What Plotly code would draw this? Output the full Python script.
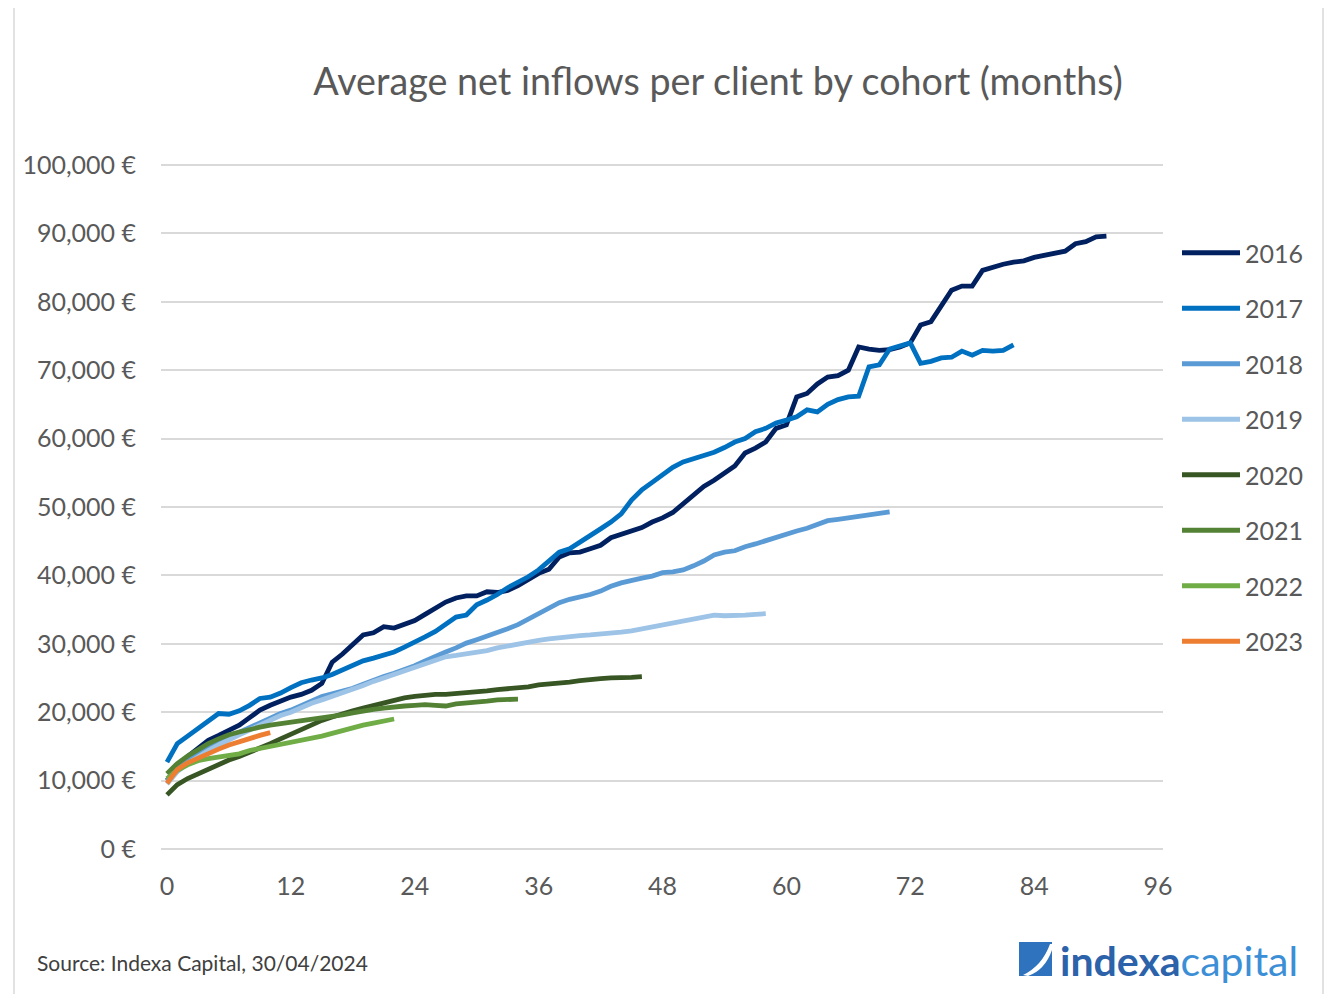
import plotly.graph_objects as go

# ---------------- data (thousand €) ----------------
cohorts = ["2016", "2017", "2018", "2019", "2020", "2021", "2022", "2023"]

v2016 = [10.0, 12.0, 13.5, 14.8, 15.9, 16.6, 17.4, 18.1, 19.2, 20.3, 21.0, 21.6, 22.2, 22.6, 23.2, 24.2,
         27.3, 28.5, 30.0, 31.3, 31.6, 32.5, 32.3, 32.8, 33.4, 34.3, 35.3, 36.1, 36.7, 37.0, 37.0, 37.6,
         37.5, 37.8, 38.5, 39.4, 40.3, 40.9, 42.7, 43.3, 43.4, 43.9, 44.4, 45.5, 46.0, 46.5, 47.0, 47.8,
         48.4, 49.2, 50.5, 51.8, 53.0, 53.9, 55.0, 56.0, 57.9, 58.6, 59.5, 61.5, 62.0, 66.1, 66.6, 68.0,
         69.0, 69.2, 70.0, 73.4, 73.1, 72.9, 73.0, 73.4, 74.0, 76.6, 77.1, 79.4, 81.7, 82.3, 82.3, 84.6,
         85.1, 85.5, 85.8, 86.0, 86.5, 86.8, 87.1, 87.4, 88.5, 88.8, 89.5, 89.6]
v2017 = [12.7, 15.4, 16.5, 17.6, 18.7, 19.8, 19.7, 20.2, 21.0, 22.0, 22.2, 22.8, 23.6, 24.3, 24.7, 25.0,
         25.5, 26.2, 26.9, 27.5, 27.9, 28.4, 28.8, 29.5, 30.2, 31.0, 31.8, 32.9, 33.9, 34.2, 35.7, 36.4,
         37.2, 38.2, 39.0, 39.8, 40.8, 42.0, 43.4, 43.9, 44.8, 45.8, 46.8, 47.8, 49.0, 51.0, 52.5, 53.6,
         54.8, 55.8, 56.6, 57.1, 57.5, 58.0, 58.7, 59.5, 60.0, 61.0, 61.5, 62.3, 62.7, 63.2, 64.2, 63.9,
         65.0, 65.7, 66.1, 66.2, 70.5, 70.8, 73.1, 73.5, 74.0, 71.0, 71.3, 71.8, 71.9, 72.8, 72.2, 72.9,
         72.8, 72.9, 73.7]
v2018 = [10.0, 11.8, 13.0, 14.0, 14.9, 15.7, 16.4, 17.1, 17.8, 18.5, 19.2, 19.8, 20.3, 21.0, 21.7, 22.3,
         22.7, 23.1, 23.5, 24.1, 24.7, 25.2, 25.7, 26.2, 26.8, 27.5, 28.2, 28.8, 29.4, 30.1, 30.6, 31.1,
         31.6, 32.2, 32.8, 33.6, 34.5, 35.3, 36.0, 36.5, 36.8, 37.2, 37.7, 38.4, 38.9, 39.3, 39.6, 39.9,
         40.4, 40.5, 40.8, 41.4, 42.1, 43.0, 43.4, 43.6, 44.2, 44.6, 45.1, 45.6, 46.1, 46.5, 46.9, 47.4,
         48.0, 48.2, 48.4, 48.6, 48.9, 49.1, 49.3]
v2019 = [9.5, 11.3, 12.5, 13.5, 14.4, 15.2, 16.0, 16.7, 17.4, 18.1, 18.9, 19.5, 20.0, 20.7, 21.3, 21.8,
         22.3, 22.8, 23.4, 23.9, 24.5, 25.0, 25.5, 26.0, 26.6, 27.1, 27.6, 28.1, 28.3, 28.5, 28.7, 29.0,
         29.4, 29.7, 30.0, 30.3, 30.5, 30.7, 30.9, 31.0, 31.2, 31.3, 31.4, 31.5, 31.7, 31.9, 32.2, 32.5,
         32.8, 33.0, 33.3, 33.7, 34.0, 34.2, 34.1, 34.1, 34.2, 34.3, 34.4]
v2020 = [7.9, 9.4, 10.3, 11.0, 11.7, 12.3, 13.0, 13.5, 14.1, 14.8, 15.4, 16.1, 16.8, 17.5, 18.2, 18.8,
         19.3, 19.8, 20.2, 20.6, 21.0, 21.4, 21.8, 22.1, 22.3, 22.5, 22.6, 22.6, 22.7, 22.8, 22.9, 23.1,
         23.3, 23.4, 23.5, 23.7, 24.0, 24.1, 24.2, 24.4, 24.6, 24.8, 24.9, 25.0, 25.0, 25.1, 25.2]
v2021 = [11.0, 12.5, 13.6, 14.6, 15.4, 16.1, 16.7, 17.1, 17.5, 17.8, 18.1, 18.3, 18.6, 18.8, 19.0, 19.2,
         19.4, 19.6, 19.9, 20.2, 20.4, 20.6, 20.8, 20.9, 21.0, 21.1, 21.0, 20.9, 21.2, 21.3, 21.4, 21.6,
         21.8, 21.8, 21.9]
v2022 = [10.3, 11.5, 12.3, 12.9, 13.2, 13.4, 13.6, 13.9, 14.4, 14.7, 14.9, 15.2, 15.5, 15.8, 16.2, 16.5,
         16.9, 17.3, 17.8, 18.1, 18.4, 18.7, 19.0]
v2023 = [9.6, 11.6, 12.6, 13.3, 14.0, 14.6, 15.2, 15.7, 16.2, 16.6, 17.0]

series = [v2016, v2017, v2018, v2019, v2020, v2021, v2022, v2023]
colors = ["#002060", "#0070C0", "#5B9BD5", "#9DC3E6", "#375623", "#548235", "#70AD47", "#ED7D31"]

y_tickvals = [0, 10000, 20000, 30000, 40000, 50000, 60000, 70000, 80000, 90000, 100000]
y_ticktext = ["0 €", "10,000 €", "20,000 €", "30,000 €", "40,000 €", "50,000 €",
              "60,000 €", "70,000 €", "80,000 €", "90,000 €", "100,000 €"]
x_tickvals = [0, 12, 24, 36, 48, 60, 72, 84, 96]

title_text = "Average net inflows per client by cohort (months)"
source_text = "Source: Indexa Capital, 30/04/2024"

# ---------------- geometry helpers (layout only) ----------------
OFF = 8                       # page body margin
W, H = 1332 - 2 * OFF, 1002 - 2 * OFF
SL, SR, ST, SB = 161, 1163, 163, 851   # plot area in screen px
PL, PR, PT, PB = SL - OFF, SR - OFF, ST - OFF, SB - OFF


def px(xs):
    return (xs - OFF - PL) / (PR - PL)


def py(ys):
    return (PB - (ys - OFF)) / (PB - PT)


FONT = "Lato, 'Open Sans', sans-serif"

fig = go.Figure()
for name, vals, col in zip(cohorts, series, colors):
    fig.add_trace(go.Scatter(
        x=list(range(len(vals))),
        y=[v * 1000 for v in vals],
        mode="lines",
        name=name,
        legendgroup=name,
        line=dict(color=col, width=4.8, shape="linear"),
        hoverinfo="x+y+name",
    ))

shapes = [
    # outer chart frame
    dict(type="rect", xref="paper", yref="paper",
         x0=px(14), x1=px(1323), y0=py(1000), y1=py(7),
         line=dict(color="#D9D9D9", width=1.5), fillcolor="rgba(0,0,0,0)", layer="below"),
    # logo icon
    dict(type="rect", xref="paper", yref="paper",
         x0=px(1019), x1=px(1052), y0=py(976), y1=py(942),
         line=dict(width=0), fillcolor="#2F72BD"),
    dict(type="path", xref="paper", yref="paper",
         path=f"M {px(1023)} {py(975)} Q {px(1042)} {py(966)} {px(1050)} {py(944)} "
              f"L {px(1052)} {py(944)} L {px(1052)} {py(950)} Q {px(1045)} {py(970)} {px(1028)} {py(976)} Z",
         line=dict(width=0), fillcolor="white"),
]

annotations = [
    dict(text=source_text, xref="paper", yref="paper", x=px(35), y=py(962),
         xanchor="left", yanchor="middle", showarrow=False,
         font=dict(family=FONT, size=21, color="#404040")),
    dict(text="<b>indexa</b><span style='color:#3C8FD6'>capital</span>",
         xref="paper", yref="paper", x=px(1058), y=py(960),
         xanchor="left", yanchor="middle", showarrow=False,
         font=dict(family=FONT, size=41, color="#2B62AA")),
]

fig.update_layout(
    width=W, height=H,
    margin=dict(l=PL, r=W - PR, t=PT, b=H - PB, autoexpand=False),
    paper_bgcolor="white", plot_bgcolor="white",
    title=dict(text=title_text, x=(718 - OFF) / W, xanchor="center",
               y=1 - (82 - OFF) / H, yanchor="middle", yref="container",
               font=dict(family=FONT, size=37.7, color="#595959")),
    xaxis=dict(range=[-0.58, 96.48], tickmode="array", tickvals=x_tickvals,
               showgrid=False, zeroline=False, showline=False, ticks="",
               ticklabelstandoff=18,
               tickfont=dict(family=FONT, size=25, color="#595959")),
    yaxis=dict(range=[-300, 100300], tickmode="array", tickvals=y_tickvals, ticktext=y_ticktext,
               showgrid=True, gridcolor="#D9D9D9", gridwidth=1.6,
               zeroline=False, showline=False, ticks="",
               ticklabelstandoff=24,
               tickfont=dict(family=FONT, size=25, color="#595959")),
    legend=dict(x=px(1177), y=py(230), xanchor="left", yanchor="top",
                font=dict(family=FONT, size=25, color="#595959"),
                itemwidth=58,
                tracegroupgap=20, bgcolor="rgba(0,0,0,0)", traceorder="grouped"),
    shapes=shapes,
    annotations=annotations,
    showlegend=True,
)

fig.write_html("out.html")
